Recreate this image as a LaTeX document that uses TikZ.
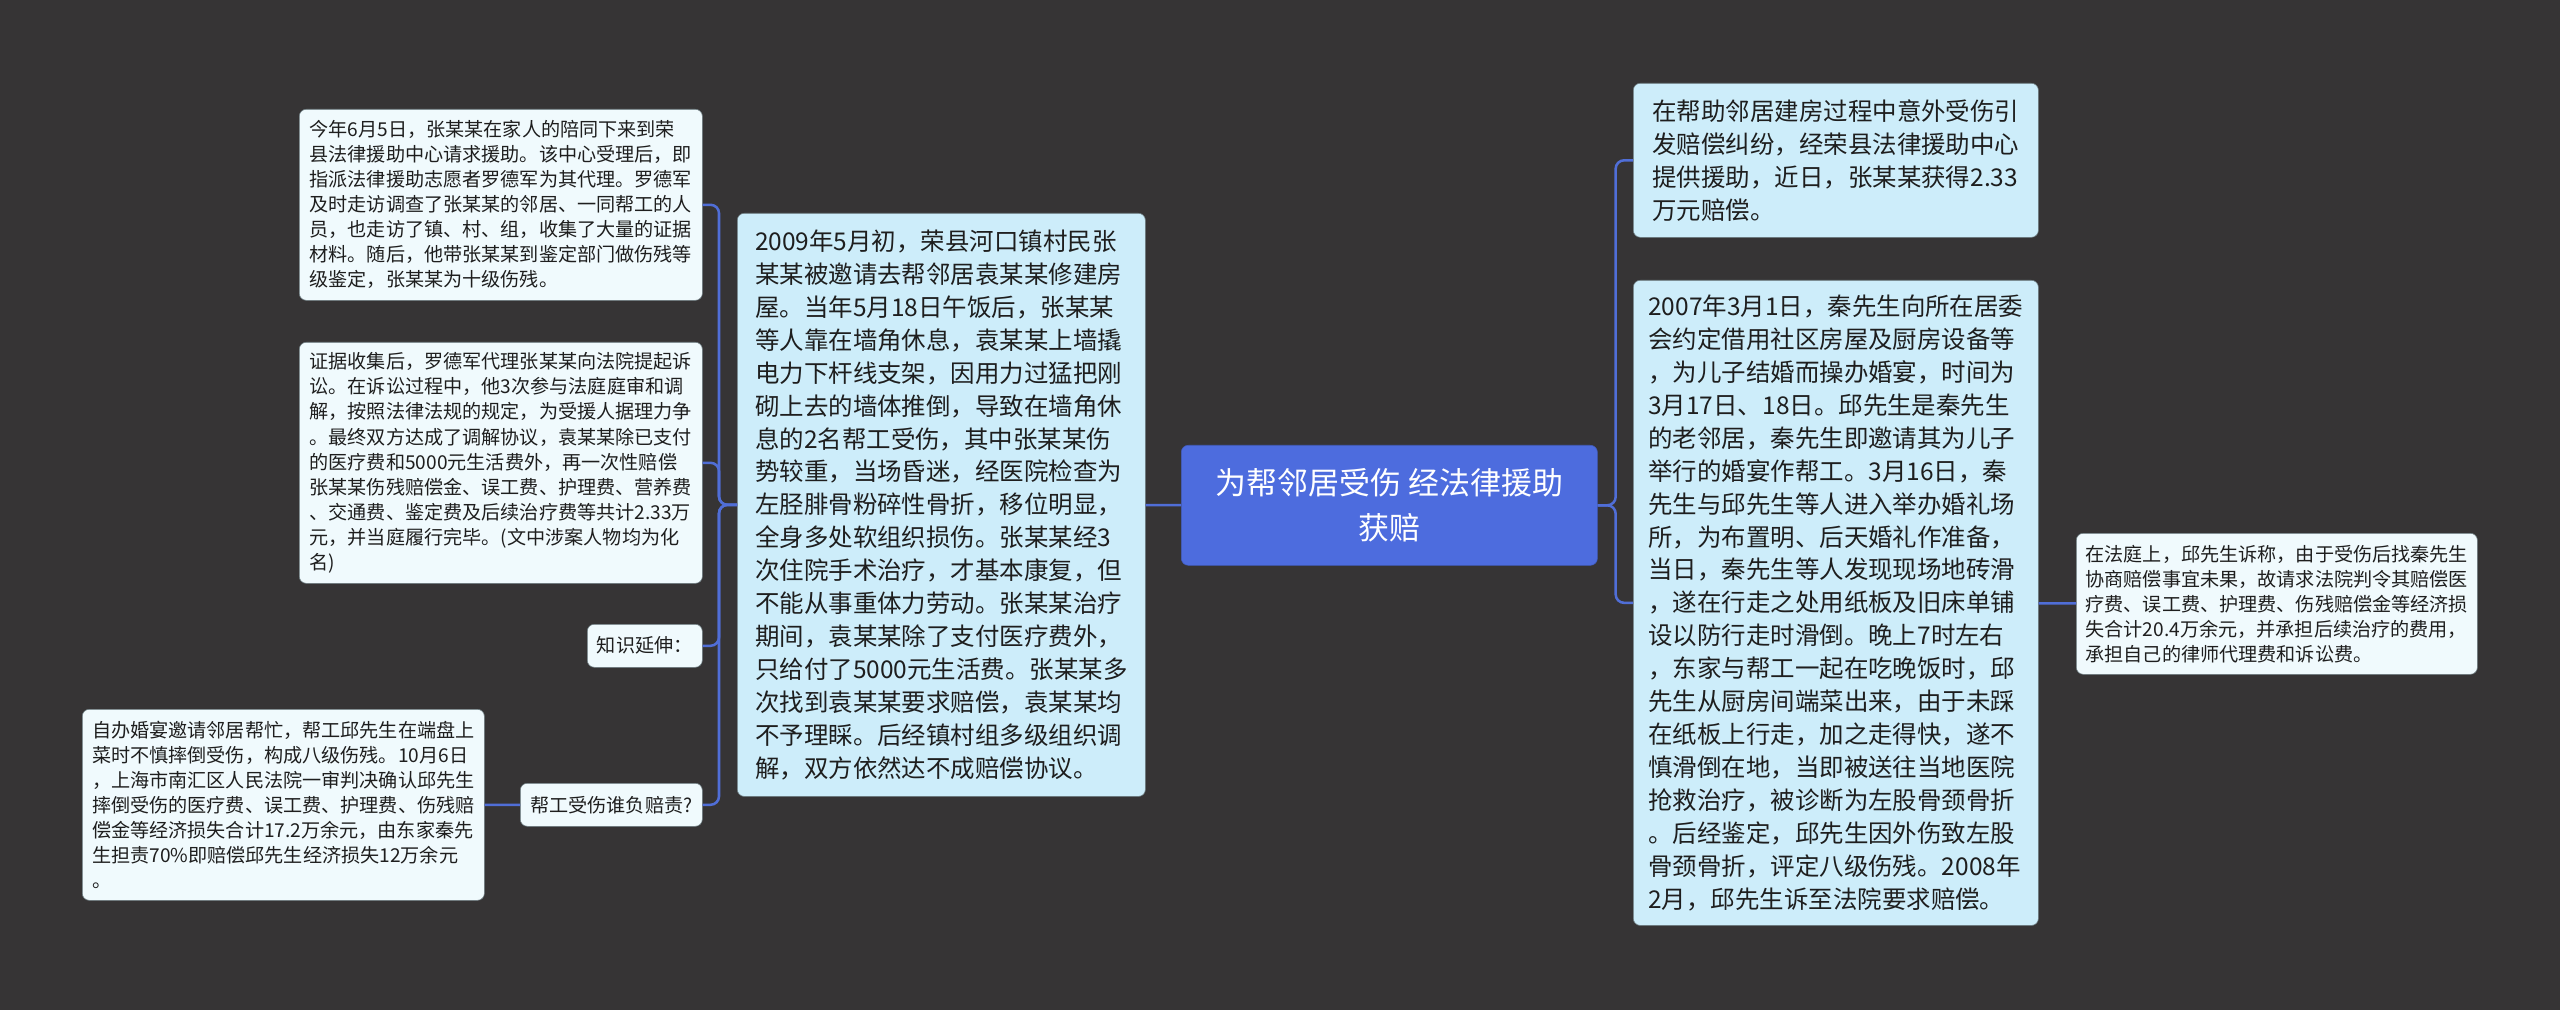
\documentclass[tikz,border=0pt]{standalone}
\usepackage{xcolor}
\usepackage{fontspec}
\usepackage{tikz}
\usetikzlibrary{positioning, calc}
\setmainfont{Noto Sans CJK SC}
\definecolor{canvasgray}{RGB}{54,52,53}
\definecolor{rootblue}{RGB}{77,108,222}
\definecolor{linkblue}{RGB}{80,110,215}
\definecolor{topicblue}{RGB}{205,237,250}
\definecolor{notewhite}{RGB}{240,250,253}
\definecolor{edgegray}{RGB}{110,125,130}
\definecolor{inkgray}{RGB}{30,30,30}
\tikzstyle{rootbox} = [rectangle, rounded corners=5pt, draw=rootblue!85!black, fill=rootblue, text=white, align=center, anchor=north west, font=\fontsize{22}{32}\selectfont]
\tikzstyle{topicbox} = [rectangle, rounded corners=5pt, draw=edgegray, fill=topicblue, text=inkgray, align=left, anchor=north west, font=\fontsize{17.4}{23.4}\selectfont]
\tikzstyle{notebox} = [rectangle, rounded corners=5pt, draw=edgegray, fill=notewhite, text=inkgray, align=left, anchor=north west, font=\fontsize{13.6}{17.8}\selectfont]
\tikzstyle{link} = [line width=1.8pt, draw=linkblue, rounded corners=6pt]

\begin{document}
\begin{tikzpicture}[x=0.025cm, y=-0.025cm]

\fill [canvasgray] (0,0) rectangle (2560,1010);
\useasboundingbox (0,0) rectangle (2560,1010);

% Centre
\node (root) [rootbox, minimum width=10.4cm, minimum height=3cm] at (1181,445) {为帮邻居受伤 经法律援助\\获赔};

% Left branch
\node (story) [topicbox, minimum width=10.2cm, minimum height=14.575cm] at (737,213) {2009年5月初，荣县河口镇村民张\\某某被邀请去帮邻居袁某某修建房\\屋。当年5月18日午饭后，张某某\\等人靠在墙角休息，袁某某上墙撬\\电力下杆线支架，因用力过猛把刚\\砌上去的墙体推倒，导致在墙角休\\息的2名帮工受伤，其中张某某伤\\势较重，当场昏迷，经医院检查为\\左胫腓骨粉碎性骨折，移位明显，\\全身多处软组织损伤。张某某经3\\次住院手术治疗，才基本康复，但\\不能从事重体力劳动。张某某治疗\\期间，袁某某除了支付医疗费外，\\只给付了5000元生活费。张某某多\\次找到袁某某要求赔偿，袁某某均\\不予理睬。后经镇村组多级组织调\\解，双方依然达不成赔偿协议。};
\node (note1) [notebox, minimum width=10.075cm, minimum height=4.775cm] at (299,109) {今年6月5日，张某某在家人的陪同下来到荣\\县法律援助中心请求援助。该中心受理后，即\\指派法律援助志愿者罗德军为其代理。罗德军\\及时走访调查了张某某的邻居、一同帮工的人\\员，也走访了镇、村、组，收集了大量的证据\\材料。随后，他带张某某到鉴定部门做伤残等\\级鉴定，张某某为十级伤残。};
\node (note2) [notebox, minimum width=10.075cm, minimum height=6.025cm] at (299,342) {证据收集后，罗德军代理张某某向法院提起诉\\讼。在诉讼过程中，他3次参与法庭庭审和调\\解，按照法律法规的规定，为受援人据理力争\\。最终双方达成了调解协议，袁某某除已支付\\的医疗费和5000元生活费外，再一次性赔偿\\张某某伤残赔偿金、误工费、护理费、营养费\\、交通费、鉴定费及后续治疗费等共计2.33万\\元，并当庭履行完毕。(文中涉案人物均为化\\名)};
\node (extend) [notebox, align=center, minimum width=2.875cm, minimum height=1.075cm] at (587,624) {知识延伸：};
\node (ask) [notebox, align=center, minimum width=4.55cm, minimum height=1.075cm] at (520,783) {帮工受伤谁负赔责?};
\node (case2) [notebox, minimum width=10.05cm, minimum height=4.775cm] at (82,709) {自办婚宴邀请邻居帮忙，帮工邱先生在端盘上\\菜时不慎摔倒受伤，构成八级伤残。10月6日\\，上海市南汇区人民法院一审判决确认邱先生\\摔倒受伤的医疗费、误工费、护理费、伤残赔\\偿金等经济损失合计17.2万余元，由东家秦先\\生担责70\%即赔偿邱先生经济损失12万余元\\。};

% Right branch
\node (summary) [topicbox, minimum width=10.125cm, minimum height=3.85cm] at (1633,83) {在帮助邻居建房过程中意外受伤引\\发赔偿纠纷，经荣县法律援助中心\\提供援助，近日，张某某获得2.33\\万元赔偿。};
\node (qin) [topicbox, minimum width=10.125cm, minimum height=16.125cm] at (1633,280) {2007年3月1日，秦先生向所在居委\\会约定借用社区房屋及厨房设备等\\，为儿子结婚而操办婚宴，时间为\\3月17日、18日。邱先生是秦先生\\的老邻居，秦先生即邀请其为儿子\\举行的婚宴作帮工。3月16日，秦\\先生与邱先生等人进入举办婚礼场\\所，为布置明、后天婚礼作准备，\\当日，秦先生等人发现现场地砖滑\\，遂在行走之处用纸板及旧床单铺\\设以防行走时滑倒。晚上7时左右\\，东家与帮工一起在吃晚饭时，邱\\先生从厨房间端菜出来，由于未踩\\在纸板上行走，加之走得快，遂不\\慎滑倒在地，当即被送往当地医院\\抢救治疗，被诊断为左股骨颈骨折\\。后经鉴定，邱先生因外伤致左股\\骨颈骨折，评定八级伤残。2008年\\2月，邱先生诉至法院要求赔偿。};
\node (court) [notebox, minimum width=10.025cm, minimum height=3.525cm] at (2076,533) {在法庭上，邱先生诉称，由于受伤后找秦先生\\协商赔偿事宜未果，故请求法院判令其赔偿医\\疗费、误工费、护理费、伤残赔偿金等经济损\\失合计20.4万余元，并承担后续治疗的费用，\\承担自己的律师代理费和诉讼费。};

% Links
\draw [link] (root) -- (story);
\draw [link] (story.west) -- ++(-18,0) |- (note1.east);
\draw [link] (story.west) -- ++(-18,0) |- (note2.east);
\draw [link] (story.west) -- ++(-18,0) |- (extend.east);
\draw [link] (story.west) -- ++(-18,0) |- (ask.east);
\draw [link] (ask) -- (case2);
\draw [link] (root.east) -- ++(18,0) |- (summary.west);
\draw [link] (root.east) -- ++(18,0) |- (qin.west);
\draw [link] (qin) -- (court);

\end{tikzpicture}
\end{document}
